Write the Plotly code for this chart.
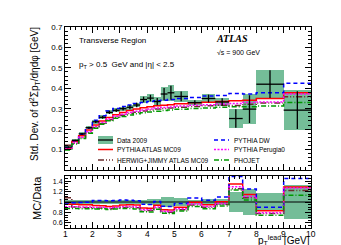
import plotly.graph_objects as go

# ---------------- data ----------------
bin_edges = [1.0, 1.25, 1.5, 1.75, 2.0, 2.25, 2.5, 2.75, 3.0, 3.25, 3.5, 3.75, 4.0,
             4.25, 4.5, 4.75, 5.0, 5.5, 6.0, 6.5, 7.0, 7.5, 8.0, 9.0, 10.0]

data_2009 = [0.112, 0.145, 0.177, 0.207, 0.236, 0.258, 0.282, 0.292, 0.300, 0.307, 0.318, 0.345,
             0.352, 0.335, 0.372, 0.378, 0.360, 0.330, 0.350, 0.333, 0.252, 0.298, 0.420, 0.293]
data_tot_err = [0.005, 0.006, 0.007, 0.008, 0.009, 0.009, 0.010, 0.010, 0.010, 0.011, 0.012, 0.016,
                0.018, 0.020, 0.035, 0.038, 0.028, 0.013, 0.022, 0.020, 0.048, 0.072, 0.071, 0.097]
data_stat_err = [0.002, 0.003, 0.004, 0.005, 0.006, 0.007, 0.008, 0.008, 0.009, 0.010, 0.011, 0.014,
                 0.016, 0.018, 0.030, 0.034, 0.024, 0.011, 0.019, 0.018, 0.045, 0.068, 0.068, 0.092]

pythia_mc09 = [0.107, 0.139, 0.168, 0.196, 0.220, 0.240, 0.257, 0.270, 0.282, 0.291, 0.299, 0.305,
               0.310, 0.314, 0.317, 0.320, 0.324, 0.329, 0.332, 0.335, 0.339, 0.341, 0.350, 0.378]
pythia_dw = [0.110, 0.143, 0.175, 0.206, 0.243, 0.266, 0.289, 0.301, 0.311, 0.318, 0.325, 0.330,
             0.335, 0.339, 0.342, 0.345, 0.350, 0.355, 0.362, 0.365, 0.375, 0.372, 0.378, 0.425]
pythia_perugia0 = [0.102, 0.132, 0.160, 0.187, 0.212, 0.232, 0.250, 0.263, 0.273, 0.281, 0.288, 0.294,
                   0.299, 0.303, 0.306, 0.309, 0.313, 0.317, 0.320, 0.323, 0.326, 0.330, 0.333, 0.372]
herwig_jimmy = [0.121, 0.131, 0.158, 0.184, 0.208, 0.228, 0.246, 0.258, 0.268, 0.276, 0.283, 0.289,
                0.294, 0.298, 0.301, 0.304, 0.307, 0.311, 0.314, 0.317, 0.316, 0.322, 0.328, 0.358]
phojet = [0.098, 0.127, 0.154, 0.180, 0.204, 0.224, 0.241, 0.253, 0.262, 0.269, 0.275, 0.280,
          0.284, 0.288, 0.291, 0.294, 0.297, 0.301, 0.304, 0.307, 0.310, 0.310, 0.313, 0.331]

x_ticks = [1, 2, 3, 4, 5, 6, 7, 8, 9, 10]
y_main_ticks = [0.1, 0.2, 0.3, 0.4, 0.5, 0.6, 0.7]
y_ratio_ticks = [0.6, 0.8, 1.0, 1.2, 1.4]
y_ratio_labels = ["0.6", "0.8", "1", "1.2", "1.4"]

# ---------------- derived from the bins ----------------
centers = [(a + b) / 2 for a, b in zip(bin_edges[:-1], bin_edges[1:])]
widths = [b - a for a, b in zip(bin_edges[:-1], bin_edges[1:])]
half_w = [w / 2 for w in widths]

GREEN = "rgb(116,189,152)"
FONT = "Liberation Sans"

mc_styles = [
    ("PYTHIA ATLAS MC09", pythia_mc09, "#ff0000", "solid"),
    ("HERWIG+JIMMY ATLAS MC09", herwig_jimmy, "#6b2d2d", "6px,2px,1px,2px,1px,2px"),
    ("PYTHIA DW", pythia_dw, "#0000ff", "4px,3px"),
    ("PYTHIA Perugia0", pythia_perugia0, "#ff00ff", "2px,1.5px"),
    ("PHOJET", phojet, "#009900", "5px,2px,1px,2px"),
]


def step(vals):
    return bin_edges, list(vals) + [vals[-1]]


fig = go.Figure()

# ---- main panel ----
fig.add_trace(go.Bar(
    x=centers, width=widths,
    base=[d - e for d, e in zip(data_2009, data_tot_err)],
    y=[2 * e for e in data_tot_err],
    marker=dict(color=GREEN, line=dict(width=0)),
    xaxis="x2", yaxis="y2", showlegend=False, hoverinfo="skip"))

for name, vals, col, dash in mc_styles:
    sx, sy = step(vals)
    fig.add_trace(go.Scatter(x=sx, y=sy, mode="lines", line_shape="hv",
                             line=dict(color=col, width=1.5, dash=dash),
                             xaxis="x2", yaxis="y2", name=name, showlegend=False))

fig.add_trace(go.Scatter(
    x=centers, y=data_2009, mode="markers",
    marker=dict(size=1, color="black"),
    error_x=dict(type="data", array=half_w, color="black", thickness=1.3, width=0),
    error_y=dict(type="data", array=data_stat_err, color="black", thickness=1.3, width=0),
    xaxis="x2", yaxis="y2", name="Data 2009", showlegend=False))

# ---- ratio panel ----
rel_err = [e / d for e, d in zip(data_tot_err, data_2009)]
fig.add_trace(go.Bar(
    x=centers, width=widths,
    base=[1 - r for r in rel_err], y=[2 * r for r in rel_err],
    marker=dict(color=GREEN, line=dict(width=0)),
    xaxis="x", yaxis="y", showlegend=False, hoverinfo="skip"))

ones = [d / d for d in data_2009]
sx, sy = step(ones)
fig.add_trace(go.Scatter(x=sx, y=sy, mode="lines", line_shape="hv",
                         line=dict(color="black", width=1.2),
                         xaxis="x", yaxis="y", showlegend=False))

for name, vals, col, dash in mc_styles:
    ratio = [m / d for m, d in zip(vals, data_2009)]
    sx, sy = step(ratio)
    fig.add_trace(go.Scatter(x=sx, y=sy, mode="lines", line_shape="hv",
                             line=dict(color=col, width=1.5, dash=dash),
                             xaxis="x", yaxis="y", showlegend=False))

# ---------------- layout ----------------
L, R, T, B = 57, 38, 19, 25
W, H = 341, 245
PW, PH = W - L - R, H - T - B


def px(x):
    return (x - L) / PW


def py(y):
    return (H - B - y) / PH


axis_common = dict(showline=True, linecolor="black", linewidth=1, mirror="allticks",
                   ticks="inside", tickcolor="black", showgrid=False, zeroline=False)

fig.update_layout(
    width=W, height=H,
    margin=dict(l=L, r=R, t=T, b=B),
    paper_bgcolor="white", plot_bgcolor="white",
    barmode="overlay", bargap=0,
    font=dict(family=FONT, color="black"),
    xaxis=dict(domain=[0, 1], anchor="y", range=[1, 10], tickvals=x_ticks, ticklen=6,
               showticklabels=False,
               minor=dict(ticks="inside", ticklen=3, dtick=0.2, tick0=1, tickcolor="black"),
               **axis_common),
    yaxis=dict(domain=[0, py(168)], anchor="x", range=[0.5, 1.5],
               tickvals=y_ratio_ticks, ticktext=y_ratio_labels, ticklen=6,
               tickfont=dict(size=7),
               minor=dict(ticks="inside", ticklen=3, dtick=0.05, tick0=0.5, tickcolor="black"),
               **axis_common),
    xaxis2=dict(domain=[0, 1], anchor="y2", range=[1, 10], tickvals=x_ticks, ticklen=6,
                showticklabels=False, matches="x",
                minor=dict(ticks="inside", ticklen=3, dtick=0.2, tick0=1, tickcolor="black"),
                **axis_common),
    yaxis2=dict(domain=[py(162), 1], anchor="x2", range=[0, 0.7], tickvals=y_main_ticks,
                ticklen=6, tickfont=dict(size=8),
                minor=dict(ticks="inside", ticklen=3, dtick=0.02, tick0=0, tickcolor="black"),
                **axis_common),
)

ann = []


def text(x, y, s, size, xanchor="left", yanchor="middle", angle=0, family=FONT, xref="paper"):
    ann.append(dict(x=x, y=y, xref=xref, yref="paper", text=s, showarrow=False,
                    xanchor=xanchor, yanchor=yanchor, textangle=angle,
                    font=dict(size=size, family=family, color="black")))


# x tick labels placed close under the ratio panel (ROOT style)
for t in x_ticks:
    text(t, py(225.5), str(t), 8.5, xanchor="center", xref="x")

text(px(69), py(32), "Transverse Region", 8)
text(px(69), py(57), "p<sub>T</sub> > 0.5  GeV and |η| < 2.5", 8)
text(px(206), py(31), "<b><i>ATLAS</i></b>", 10, family="Liberation Serif")
text(px(207), py(44), "√s = 900 GeV", 7)

text(px(26), py(17), "Std. Dev. of d<sup>2</sup>Σp<sub>T</sub>/dηdφ [GeV]", 10,
     xanchor="center", yanchor="top", angle=-90)
text(px(29), py(166), "MC/Data", 11, xanchor="center", yanchor="top", angle=-90)
text(px(304), py(232.5), "p<sub>T</sub><sup>lead</sup> [GeV]", 10, xanchor="right", yanchor="middle")

# manual legend
shapes = []
rows = [py(132), py(141.5), py(152)]
lx0, lx1, ltx = px(90), px(105), px(107)
rx0, rx1, rtx = px(206), px(221), px(224)

shapes.append(dict(type="rect", xref="paper", yref="paper", x0=lx0, x1=lx1,
                   y0=rows[0] - 4 / PH, y1=rows[0] + 4 / PH, fillcolor=GREEN, line=dict(width=0)))
shapes.append(dict(type="line", xref="paper", yref="paper", x0=lx0, x1=lx1,
                   y0=rows[0], y1=rows[0], line=dict(color="black", width=1.3)))
text(ltx, rows[0], "Data 2009", 6.5)

legend_pos = {
    "PYTHIA ATLAS MC09": (lx0, lx1, ltx, rows[1]),
    "HERWIG+JIMMY ATLAS MC09": (lx0, lx1, ltx, rows[2]),
    "PYTHIA DW": (rx0, rx1, rtx, rows[0]),
    "PYTHIA Perugia0": (rx0, rx1, rtx, rows[1]),
    "PHOJET": (rx0, rx1, rtx, rows[2]),
}
for name, vals, col, dash in mc_styles:
    x0, x1, tx, yy = legend_pos[name]
    shapes.append(dict(type="line", xref="paper", yref="paper", x0=x0, x1=x1, y0=yy, y1=yy,
                       line=dict(color=col, width=1.5, dash=dash)))
    text(tx, yy, name, 6.5)

fig.update_layout(annotations=ann, shapes=shapes)

fig.write_html("out.html")
